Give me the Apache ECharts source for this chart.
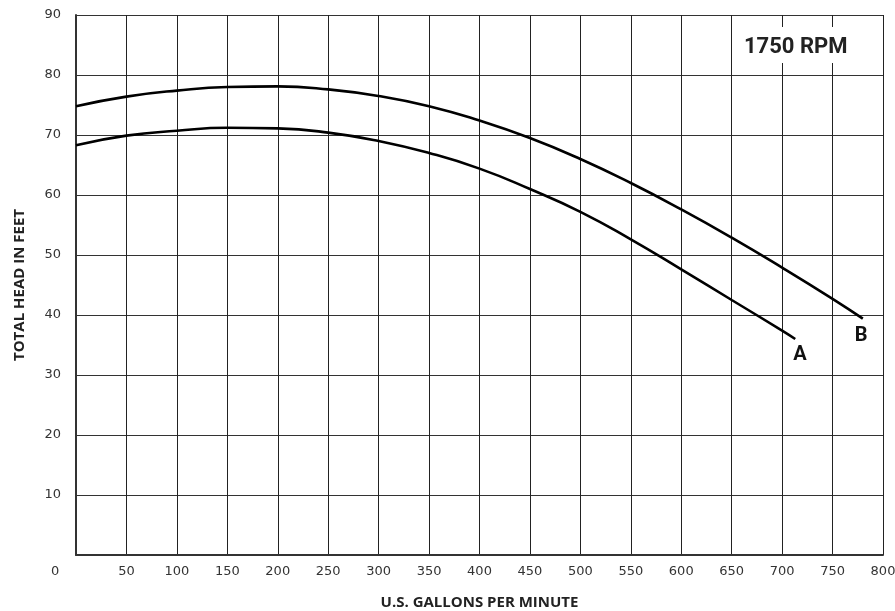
<!DOCTYPE html>
<html>
<head>
<meta charset="utf-8">
<script src="https://cdn.jsdelivr.net/npm/echarts@6/dist/echarts.min.js"></script>
<style>html,body{margin:0;padding:0;background:#fff}#c{width:895px;height:611px}</style>
</head>
<body>
<div id="c"></div>
<script>
// Data
var curveAGpm  = [0, 50, 100, 150, 200, 250, 300, 350, 400, 450, 500, 550, 600, 650, 700, 713];
var curveAHead = [68.3, 69.9, 70.7, 71.2, 71.1, 70.4, 69.0, 67.0, 64.4, 61.0, 57.2, 52.6, 47.6, 42.5, 37.4, 36.0];
var curveBGpm  = [0, 50, 100, 150, 200, 250, 300, 350, 400, 450, 500, 550, 600, 650, 700, 750, 780];
var curveBHead = [74.8, 76.4, 77.4, 78.0, 78.1, 77.6, 76.5, 74.8, 72.4, 69.5, 66.0, 62.0, 57.6, 52.9, 47.9, 42.7, 39.4];
var curveLabels = ['A', 'B'];
var rpmLabel = '1750 RPM';
var xTitle = 'U.S. GALLONS PER MINUTE';
var yTitle = 'TOTAL HEAD IN FEET';
var originLabel = '0';

function pairs(xs, ys) { return xs.map(function (x, i) { return [x, ys[i]]; }); }

var chart = echarts.init(document.getElementById('c'));
var titleFont = 'Open Sans';
var option = {
  animation: false,
  backgroundColor: '#fff',
  grid: { left: 76, right: 12, top: 15, bottom: 56, containLabel: false, outerBoundsMode: 'none' },
  xAxis: {
    type: 'value', min: 0, max: 800, interval: 50,
    axisLine: { show: true, onZero: false, lineStyle: { color: '#333', width: 2 } },
    axisTick: { show: false },
    splitLine: { show: true, lineStyle: { color: '#222', width: 1 } },
    axisLabel: {
      color: '#333', fontFamily: 'DejaVu Sans', fontSize: 13, margin: 10,
      formatter: function (v) { return v === 0 ? '' : String(v); }
    },
    name: xTitle, nameLocation: 'middle', nameGap: 40,
    nameTextStyle: { fontFamily: titleFont, fontWeight: 'bold', fontSize: 15, color: '#222' }
  },
  yAxis: {
    type: 'value', min: 0, max: 90, interval: 10, offset: 3,
    axisLine: { show: true, lineStyle: { color: '#333', width: 2 } },
    axisTick: { show: false },
    splitLine: { show: true, lineStyle: { color: '#333', width: 1 } },
    axisLabel: {
      color: '#333', fontFamily: 'DejaVu Sans', fontSize: 13, margin: 12,
      formatter: function (v) { return v === 0 ? '' : String(v); }
    },
    name: yTitle, nameLocation: 'middle', nameGap: 46, nameRotate: 90,
    nameTextStyle: { fontFamily: titleFont, fontWeight: 'bold', fontSize: 15, color: '#222' }
  },
  series: [
    {
      type: 'line', name: curveLabels[0], data: pairs(curveAGpm, curveAHead),
      smooth: 0.5, showSymbol: false, lineStyle: { color: '#000', width: 2.6 },
      endLabel: { show: true, formatter: curveLabels[0], offset: [-10, 16],
        fontFamily: 'Roboto', fontWeight: 'bold', fontSize: 20, color: '#111' }
    },
    {
      type: 'line', name: curveLabels[1], data: pairs(curveBGpm, curveBHead),
      smooth: 0.5, showSymbol: false, lineStyle: { color: '#000', width: 2.6 },
      endLabel: { show: true, formatter: curveLabels[1], offset: [-16, 17],
        fontFamily: 'Roboto', fontWeight: 'bold', fontSize: 20, color: '#111' }
    }
  ],
  graphic: [
    { type: 'rect', left: 738, top: 27, shape: { width: 116, height: 36 }, style: { fill: '#fff' }, z: 10 },
    { type: 'text', left: 744, top: 36, z: 11,
      style: { text: rpmLabel, font: 'bold 22px Roboto', fill: '#222' } },
    { type: 'text', left: 51, top: 565, z: 11,
      style: { text: originLabel, font: '13px "DejaVu Sans"', fill: '#333' } }
  ]
};
chart.setOption(option);
</script>
</body>
</html>
